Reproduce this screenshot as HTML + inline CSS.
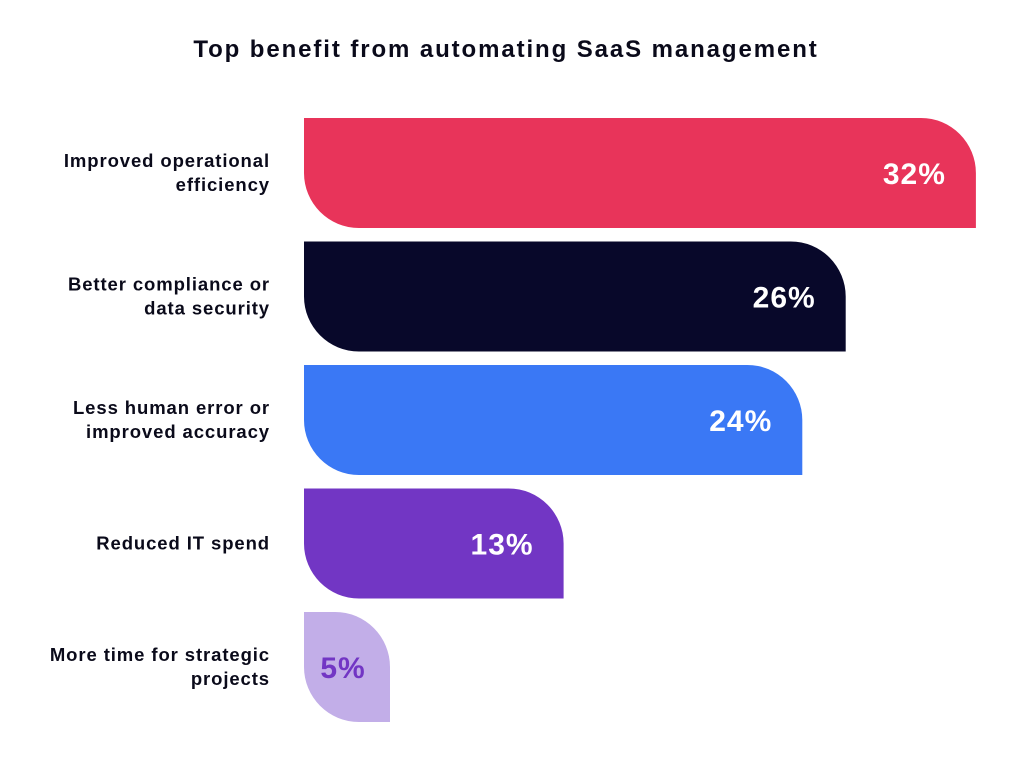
<!DOCTYPE html>
<html><head><meta charset="utf-8"><style>
body{margin:0;background:#fff;font-family:"Liberation Sans",sans-serif;}
</style></head><body>
<svg width="1024" height="758" xmlns="http://www.w3.org/2000/svg">
<text x="506" y="57" text-anchor="middle" font-size="24" font-weight="bold" letter-spacing="1.9" fill="#0a0a1a">Top benefit from automating SaaS management</text>
<g id="bars"></g>
</svg>
<script>
const categories=[["Improved operational","efficiency"],["Better compliance or","data security"],["Less human error or","improved accuracy"],["Reduced IT spend"],["More time for strategic","projects"]];
const values=[32,26,24,13,5];
const valueLabels=["32%","26%","24%","13%","5%"];
const colors=["#e8345a","#08082a","#3a78f5","#7236c4","#c2aee8"];
const NS="http://www.w3.org/2000/svg";
const g=document.getElementById('bars');
const x0=304;
function xScale(v){return 281.5+21.7*v;}
function yScale(i){return 118+i*123.5;}
const bh=110;
values.forEach((v,i)=>{
  const y=yScale(i), x1=xScale(v), w=x1-x0;
  const r=Math.min(55,w*0.65,bh/2);
  const p=document.createElementNS(NS,'path');
  p.setAttribute('d',`M${x0},${y} H${x1-r} A${r},${r} 0 0 1 ${x1},${y+r} V${y+bh} H${x0+r} A${r},${r} 0 0 1 ${x0},${y+bh-r} Z`);
  p.setAttribute('fill',colors[i]);
  
  
  g.appendChild(p);
  const t=document.createElementNS(NS,'text');
  const small=w<120;
  t.setAttribute('x',small?x0+w/2-4:x1-30);
  t.setAttribute('y',y+bh/2+11);
  t.setAttribute('text-anchor',small?'middle':'end');
  t.setAttribute('font-size','30');
  t.setAttribute('font-weight','bold');
  t.setAttribute('letter-spacing','1');
  t.setAttribute('fill',small?'#7236c4':'#fff');
  t.textContent=valueLabels[i];
  
  
  g.appendChild(t);
  const lines=categories[i];
  lines.forEach((ln,j)=>{
    const c=document.createElementNS(NS,'text');
    c.setAttribute('x',270);
    c.setAttribute('y',y+bh/2+6+(j-(lines.length-1)/2)*24);
    c.setAttribute('text-anchor','end');
    c.setAttribute('font-size','18.5');
    c.setAttribute('font-weight','bold');
    c.setAttribute('letter-spacing','0.9');
    c.setAttribute('fill','#0a0a1a');
    c.textContent=ln;
    
    
    g.appendChild(c);
  });
});
</script>
</body></html>
